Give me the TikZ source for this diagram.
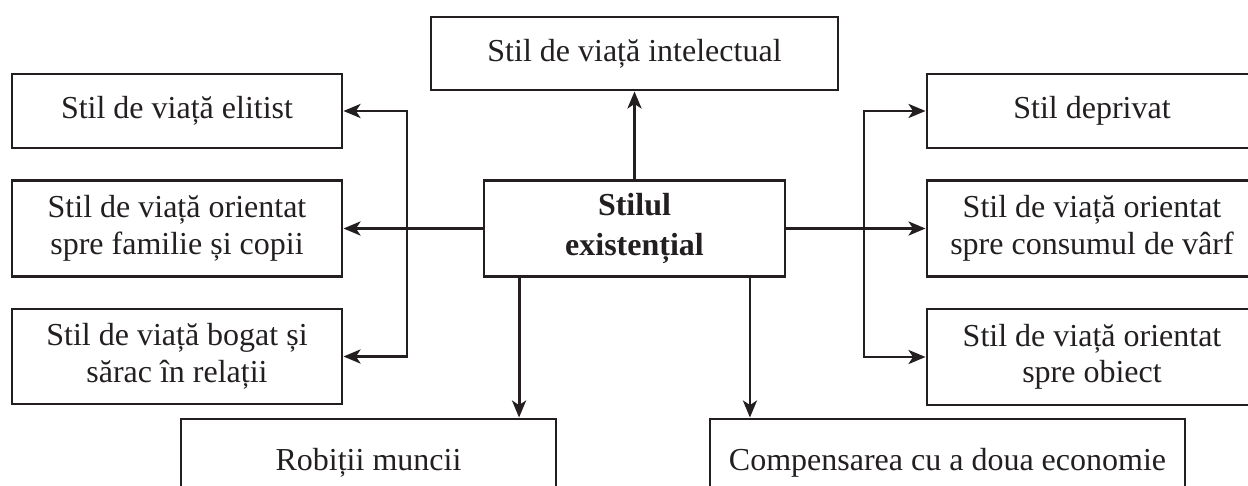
\documentclass[tikz,border=0pt]{standalone}
\usepackage{fontspec}
\setmainfont{Liberation Serif}
\usetikzlibrary{arrows.meta}
\definecolor{ink}{HTML}{231F20}
\begin{document}
\begin{tikzpicture}[x=1pt,y=-1pt,
  box/.style={draw=ink, line width=2.9pt, align=center, inner sep=0pt, text=ink, font=\fontsize{32}{36.5}\selectfont},
  boldbox/.style={box, font=\fontsize{32}{40}\selectfont\bfseries},
  arr/.style={draw=ink, line width=2.9pt, -{Stealth[length=17pt,width=14pt,inset=4.5pt]}}]
\useasboundingbox (0,0) rectangle (1248,486);
\clip (0,0) rectangle (1248,486);
\node[box, minimum width=407, minimum height=73] (top) at (634.5,53.5) {Stil de viață intelectual};
\node[box, minimum width=330, minimum height=74] (l1) at (177,111) {Stil de viață elitist};
\node[box, minimum width=330, minimum height=96] (l2) at (177,228.5) {Stil de viață orientat\\spre familie și copii};
\node[box, minimum width=330, minimum height=95] (l3) at (177,356.5) {Stil de viață bogat și\\sărac în relații};
\node[boldbox, minimum width=301, minimum height=96] (c) at (634.5,228.5) {Stilul\\existențial};
\node[box, minimum width=330, minimum height=74] (r1) at (1092,111) {Stil deprivat};
\node[box, minimum width=330, minimum height=96] (r2) at (1092,228.5) {Stil de viață orientat\\spre consumul de vârf};
\node[box, minimum width=330, minimum height=96] (r3) at (1092,357) {Stil de viață orientat\\spre obiect};
\node[box, minimum width=375, minimum height=88] (b1) at (368.5,463) {Robiții muncii};
\node[box, minimum width=475, minimum height=88] (b2) at (947.5,463) {Compensarea cu a doua economie};
\coordinate (jl) at (407,228.5);
\coordinate (jr) at (864,228.5);
\draw[arr] (c.north) -- (top.south);
\draw[arr] (c.west) -- (l2.east);
\draw[arr] (jl) |- (l1.east);
\draw[arr] (jl) |- (l3.east);
\draw[arr] (c.east) -- (r2.west);
\draw[arr] (jr) |- (r1.west);
\draw[arr] (jr) |- (r3.west);
\draw[arr] ([xshift=36.5pt]c.south west) -- ([xshift=36.5pt]c.south west |- b1.north);
\draw[arr] ([xshift=-36.5pt]c.south east) -- ([xshift=-36.5pt]c.south east |- b2.north);
\end{tikzpicture}
\end{document}
